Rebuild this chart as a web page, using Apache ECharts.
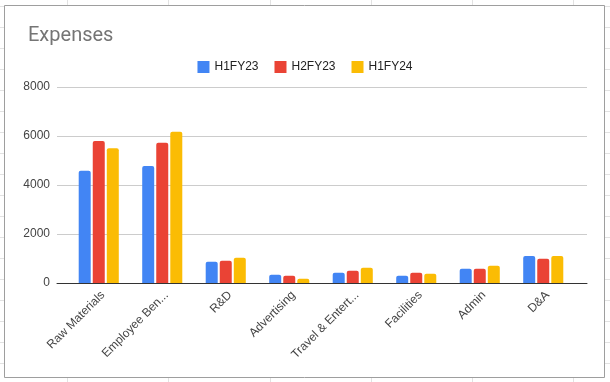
<!DOCTYPE html>
<html>
<head>
<meta charset="utf-8">
<script src="https://cdn.jsdelivr.net/npm/echarts@6/dist/echarts.min.js"></script>
<style>
html,body{margin:0;padding:0;background:#fff;}
#chart{width:610px;height:382px;}
</style>
</head>
<body>
<div id="chart"></div>
<script>
var categories = ["Raw Materials", "Employee Ben...", "R&D", "Advertising", "Travel & Entert...", "Facilities", "Admin", "D&A"];
var seriesNames = ["H1FY23", "H2FY23", "H1FY24"];
var h1fy23 = [4580, 4780, 870, 340, 420, 300, 580, 1100];
var h2fy23 = [5800, 5720, 910, 300, 500, 420, 580, 990];
var h1fy24 = [5500, 6170, 1030, 175, 620, 380, 700, 1100];
var yTicks = [0, 2000, 4000, 6000, 8000];
var colors = ["#4285f4", "#ea4335", "#fbbc04"];

var chart = echarts.init(document.getElementById('chart'), null, {renderer: 'canvas'});

// spreadsheet cell lines behind the chart box
var bg = [];
var colX = [67, 168, 270, 371, 472, 573];
for (var i = 0; i < colX.length; i++) {
  bg.push({type: 'line', z: -10, silent: true, shape: {x1: colX[i] + 0.5, y1: 0, x2: colX[i] + 0.5, y2: 382}, style: {stroke: '#e2e2e2', lineWidth: 1}});
}
for (var y = 6; y < 382; y += 21) {
  bg.push({type: 'line', z: -10, silent: true, shape: {x1: 0, y1: y + 0.5, x2: 610, y2: y + 0.5}, style: {stroke: '#e2e2e2', lineWidth: 1}});
}
bg.push({type: 'rect', z: -5, silent: true, shape: {x: 4.5, y: 5.5, width: 600, height: 372}, style: {fill: '#fff', stroke: '#9e9e9e', lineWidth: 1}});

function mk(name, data, color) {
  return {
    name: name,
    type: 'bar',
    xAxisIndex: 0,
    yAxisIndex: 0,
    data: data,
    barWidth: 12,
    barGap: '17%',
    itemStyle: {color: color, borderRadius: [2, 2, 0, 0]}
  };
}

var font = 'Arial, sans-serif';

chart.setOption({
  animation: false,
  color: colors,
  graphic: bg,
  title: {
    text: 'Expenses',
    left: 23,
    top: 21,
    textStyle: {fontFamily: 'Roboto, Arial, sans-serif', fontSize: 20, fontWeight: 'normal', color: '#757575'}
  },
  legend: {
    data: seriesNames,
    top: 56,
    left: 'center',
    icon: 'rect',
    itemWidth: 12,
    itemHeight: 12,
    itemGap: 16,
    textStyle: {fontFamily: font, fontSize: 12, color: '#222'}
  },
  grid: [
    {left: 67, right: 35, top: 87, bottom: 99, containLabel: false},
    {left: 57, right: 23, top: 87, bottom: 99, containLabel: false}
  ],
  xAxis: [
    {
      type: 'category',
      gridIndex: 0,
      data: categories,
      axisLine: {show: false},
      axisTick: {show: false},
      axisLabel: {rotate: 45, interval: 0, margin: 6, verticalAlign: 'top', fontFamily: font, fontSize: 12, color: '#444'}
    },
    {
      type: 'value',
      gridIndex: 1,
      min: 0,
      max: 1,
      axisLine: {show: true, onZero: false, lineStyle: {color: '#333', width: 1}},
      axisTick: {show: false},
      axisLabel: {show: false},
      splitLine: {show: false}
    }
  ],
  yAxis: [
    {
      type: 'value',
      gridIndex: 0,
      min: yTicks[0],
      max: yTicks[yTicks.length - 1],
      interval: 2000,
      axisLine: {show: false},
      axisTick: {show: false},
      axisLabel: {show: false},
      splitLine: {show: false}
    },
    {
      type: 'value',
      gridIndex: 1,
      min: yTicks[0],
      max: yTicks[yTicks.length - 1],
      interval: 2000,
      axisLine: {show: false},
      axisTick: {show: false},
      splitLine: {lineStyle: {color: '#ccc', width: 1}},
      axisLabel: {margin: 7, fontFamily: font, fontSize: 12, color: '#444', formatter: function (v) { return String(v); }}
    }
  ],
  series: [mk(seriesNames[0], h1fy23, colors[0]), mk(seriesNames[1], h2fy23, colors[1]), mk(seriesNames[2], h1fy24, colors[2])]
});
</script>
</body>
</html>
